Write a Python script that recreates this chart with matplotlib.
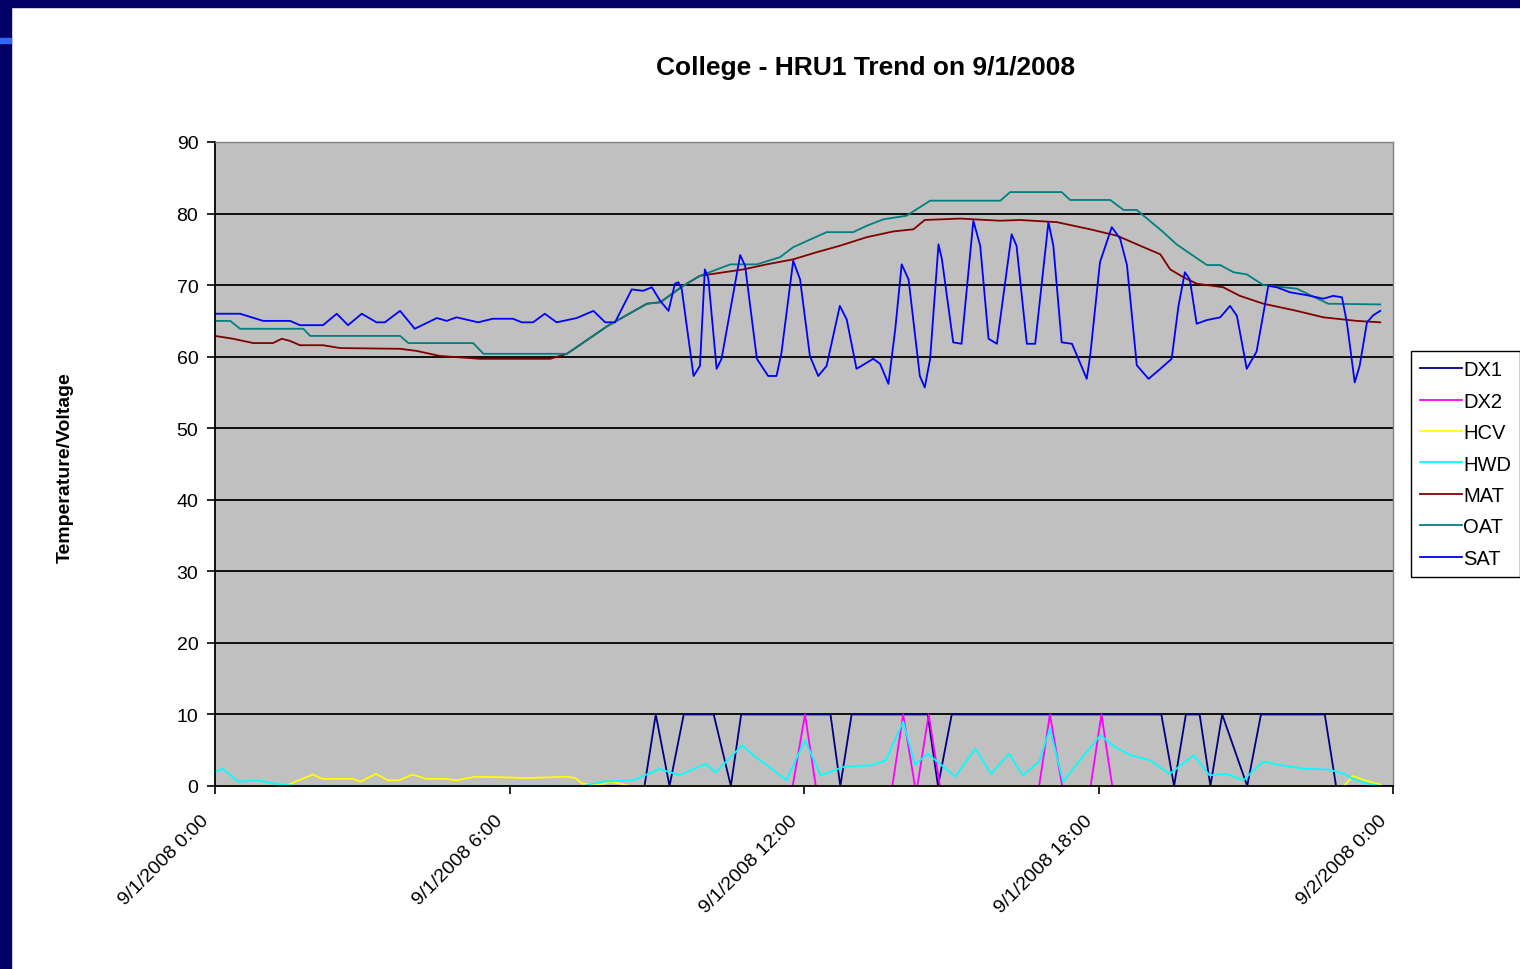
"""HRU1 trend chart for 9/1/2008 (Excel-style line chart)."""

import matplotlib.pyplot as plt
from matplotlib.patches import Rectangle
from matplotlib.lines import Line2D
from matplotlib.transforms import ScaledTranslation

plt.rcParams["font.family"] = ["Liberation Sans", "DejaVu Sans"]

# hours since 9/1/2008 0:00 and readings, one pair of lists per series
dx1_h = [0.0, 8.75, 8.98, 9.26, 9.55, 10.16, 10.51, 10.72, 12.54, 12.74, 12.97,
         14.52, 14.73, 15.01, 19.28, 19.54, 19.78, 20.06, 20.28, 20.52, 21.03,
         21.31, 22.61, 22.84, 23.75]
dx1_v = [0, 0, 10, 0, 10, 10, 0, 10, 10, 0, 10,
         10, 0, 10, 10, 0, 10, 10, 0, 10, 0,
         10, 10, 0, 0]

dx2_h = [0.0, 11.77, 12.02, 12.24, 13.80, 14.02, 14.26, 14.31, 14.54, 14.77,
         16.79, 17.01, 17.26, 17.84, 18.06, 18.28, 23.75]
dx2_v = [0, 0, 10, 0, 0, 10, 0, 0, 10, 0,
         0, 10, 0, 0, 10, 0, 0]

hcv_h = [0.0, 1.45, 1.64, 1.99, 2.19, 2.81, 2.96, 3.28, 3.52, 3.75, 4.02, 4.30,
         4.69, 4.92, 5.31, 5.94, 6.33, 7.19, 7.34, 7.50, 7.81, 8.05, 8.28, 8.44,
         23.0, 23.18, 23.42, 23.74]
hcv_v = [0, 0, 0.6, 1.6, 1.0, 1.0, 0.6, 1.7, 0.8, 0.8, 1.6, 1.0,
         1.0, 0.8, 1.3, 1.2, 1.1, 1.3, 1.1, 0.3, 0.1, 0.6, 0.3, 0,
         0, 1.4, 0.8, 0.2]

hwd_h = [0.0, 0.16, 0.47, 0.86, 1.25, 1.64, 7.50, 7.89, 8.52, 9.06, 9.45, 10.0,
         10.2, 10.74, 11.0, 11.25, 11.64, 12.02, 12.34, 12.82, 13.39, 13.67,
         14.02, 14.26, 14.52, 14.84, 15.08, 15.49, 15.81, 16.18, 16.46, 16.79,
         17.01, 17.28, 17.68, 18.04, 18.32, 18.65, 19.05, 19.45, 19.94, 20.26,
         20.6, 20.95, 21.35, 21.72, 22.2, 22.69, 23.01, 23.18, 23.5, 23.74]
hwd_v = [2.0, 2.4, 0.6, 0.8, 0.3, 0, 0, 0.6, 0.8, 2.4, 1.5, 3.1,
         1.9, 5.7, 4.1, 2.9, 0.8, 6.4, 1.5, 2.7, 2.9, 3.6,
         9.0, 3.0, 4.5, 2.7, 1.3, 5.2, 1.7, 4.5, 1.5, 3.4,
         8.0, 0.6, 4.1, 7.1, 5.5, 4.3, 3.6, 1.7, 4.3, 1.5,
         1.7, 0.8, 3.4, 2.9, 2.4, 2.3, 1.7, 1.0, 0.3, 0]

mat_h = [0.0, 0.37, 0.78, 1.18, 1.36, 1.53, 1.73, 2.2, 2.55, 3.77, 4.11, 4.58,
         5.4, 6.83, 7.17, 8.0, 8.8, 9.07, 9.54, 9.88, 10.77, 11.24, 11.78,
         12.26, 12.73, 13.28, 13.82, 14.23, 14.46, 15.18, 15.99, 16.4, 17.15,
         17.83, 18.38, 18.85, 19.26, 19.46, 19.73, 20.0, 20.54, 20.88, 21.36,
         22.04, 22.58, 23.26, 23.74]
mat_v = [62.9, 62.5, 61.9, 61.9, 62.5, 62.2, 61.6, 61.6, 61.2, 61.1, 60.8, 60.1,
         59.7, 59.7, 60.4, 64.3, 67.4, 67.6, 69.9, 71.3, 72.2, 72.9, 73.6,
         74.6, 75.5, 76.7, 77.5, 77.8, 79.1, 79.3, 79.0, 79.1, 78.8,
         77.8, 76.9, 75.5, 74.3, 72.2, 71.1, 70.2, 69.7, 68.5, 67.4,
         66.4, 65.5, 65.0, 64.8]

oat_h = [0.0, 0.31, 0.51, 1.8, 1.94, 3.77, 3.94, 5.26, 5.47, 7.1, 7.17, 8.0,
         8.8, 9.07, 9.54, 9.88, 10.5, 11.04, 11.51, 11.78, 12.46, 13.0, 13.28,
         13.62, 14.09, 14.57, 16.0, 16.2, 17.25, 17.42, 18.24, 18.51, 18.78,
         19.32, 19.59, 19.93, 20.21, 20.48, 20.75, 21.02, 21.36, 22.04, 22.68,
         23.74]
oat_v = [65.0, 65.0, 63.9, 63.9, 62.9, 62.9, 61.9, 61.9, 60.4, 60.4, 60.4, 64.3,
         67.4, 67.6, 69.9, 71.3, 72.9, 72.9, 73.9, 75.3, 77.4, 77.4, 78.3,
         79.2, 79.7, 81.8, 81.8, 83.0, 83.0, 81.9, 81.9, 80.5, 80.5,
         77.4, 75.7, 74.1, 72.8, 72.8, 71.8, 71.5, 70.0, 69.5, 67.4,
         67.3]

sat_h = [0.0, 0.51, 0.98, 1.53, 1.73, 2.2, 2.48, 2.71, 2.99, 3.29, 3.46, 3.77,
         4.07, 4.52, 4.72, 4.92, 5.36, 5.66, 6.07, 6.25, 6.48, 6.72, 6.96, 7.37,
         7.71, 7.95, 8.15, 8.49, 8.72, 8.9, 9.07, 9.24, 9.37, 9.44, 9.51, 9.75,
         9.88, 9.98, 10.05, 10.22, 10.32, 10.7, 10.8, 11.04, 11.27, 11.44, 11.54,
         11.78, 11.92, 12.12, 12.29, 12.46, 12.73, 12.87, 13.07, 13.41, 13.55,
         13.72, 13.86, 13.99, 14.13, 14.36, 14.46, 14.57, 14.74, 14.81, 15.04,
         15.21, 15.45, 15.59, 15.76, 15.93, 16.23, 16.33, 16.54, 16.71, 16.98,
         17.08, 17.25, 17.46, 17.59, 17.76, 17.83, 18.03, 18.27, 18.44, 18.58,
         18.78, 19.02, 19.26, 19.49, 19.63, 19.76, 19.86, 20.0, 20.2, 20.48,
         20.68, 20.82, 21.02, 21.22, 21.46, 21.63, 21.9, 22.24, 22.58, 22.78,
         22.96, 23.06, 23.22, 23.32, 23.47, 23.6, 23.74]
sat_v = [66.0, 66.0, 65.0, 65.0, 64.4, 64.4, 66.0, 64.4, 66.0, 64.8, 64.8, 66.4,
         63.9, 65.4, 65.0, 65.5, 64.8, 65.3, 65.3, 64.8, 64.8, 66.0, 64.8, 65.4,
         66.4, 64.8, 64.8, 69.4, 69.2, 69.7, 67.8, 66.4, 70.2, 70.4, 69.4, 57.3,
         58.7, 72.2, 71.0, 58.3, 59.7, 74.2, 72.7, 59.7, 57.3, 57.3, 60.5,
         73.4, 70.8, 60.1, 57.3, 58.7, 67.1, 65.2, 58.3, 59.7, 59.0,
         56.2, 63.9, 72.9, 70.8, 57.3, 55.7, 59.7, 75.7, 73.6, 62.0,
         61.8, 79.0, 75.5, 62.5, 61.8, 77.1, 75.5, 61.8, 61.8, 78.8,
         75.5, 62.0, 61.8, 59.7, 56.9, 60.1, 73.2, 78.1, 76.5, 72.8,
         58.8, 56.9, 58.3, 59.7, 67.1, 71.8, 70.8, 64.6, 65.1, 65.5,
         67.1, 65.7, 58.3, 60.7, 69.9, 69.7, 69.0, 68.6, 68.1, 68.5,
         68.3, 64.8, 56.4, 58.7, 64.8, 65.8, 66.4]

series_names = ["DX1", "DX2", "HCV", "HWD", "MAT", "OAT", "SAT"]
series_colors = ["#000080", "#FF00FF", "#FFFF00", "#00FFFF",
                 "#800000", "#008080", "#0000FF"]
tick_hours = [0, 6, 12, 18, 24]
tick_labels = ["9/1/2008 0:00", "9/1/2008 6:00", "9/1/2008 12:00",
               "9/1/2008 18:00", "9/2/2008 0:00"]

W, H = 1520, 970
fig = plt.figure(figsize=(W / 100, H / 100), dpi=100)
fig.patch.set_facecolor("white")

# navy slide frame
navy = "#000066"
fig.patches.append(Rectangle((0, 1 - 8 / H), 1, 8 / H, transform=fig.transFigure,
                             color=navy, zorder=0))
fig.patches.append(Rectangle((0, 0), 11 / W, 1, transform=fig.transFigure,
                             color=navy, zorder=0))
fig.patches.append(Rectangle((0, 1 - 44 / H), 11 / W, 5 / H,
                             transform=fig.transFigure, color="#3366FF", zorder=1))

ax = fig.add_axes([215 / W, 1 - 787 / H, (1393 - 215) / W, (787 - 143) / H])
ax.set_facecolor("#C0C0C0")

xs = [dx1_h, dx2_h, hcv_h, hwd_h, mat_h, oat_h, sat_h]
ys = [dx1_v, dx2_v, hcv_v, hwd_v, mat_v, oat_v, sat_v]
for x, y, name, c in zip(xs, ys, series_names, series_colors):
    ax.plot(x, y, color=c, linewidth=1.3, label=name, zorder=2,
            solid_joinstyle="round")

ax.set_xlim(0, 24)
ax.set_ylim(0, 90)
ax.set_yticks(range(0, 91, 10))
ax.set_xticks(tick_hours)
ax.set_xticklabels(tick_labels, rotation=45, ha="right", va="top",
                   rotation_mode="anchor", fontsize=15.5)
ax.tick_params(axis="both", direction="out", length=6, width=1.2,
               labelsize=14, pad=6)
ax.tick_params(axis="x", pad=4)
# Excel puts the date labels a bit left of and below each tick
shift = ScaledTranslation(-15 / 100, -12 / 100, fig.dpi_scale_trans)
for lab in ax.get_xticklabels():
    lab.set_transform(lab.get_transform() + shift)
ax.grid(axis="y", color="black", linewidth=1.3, zorder=1)
ax.set_axisbelow(True)
for side in ["left", "bottom"]:
    ax.spines[side].set_color("black")
    ax.spines[side].set_linewidth(1.3)
for side in ["top", "right"]:
    ax.spines[side].set_color("#808080")
    ax.spines[side].set_linewidth(1.0)

fig.text(866 / W, 1 - 68 / H, "College - HRU1 Trend on 9/1/2008",
         fontsize=19, fontweight="bold", ha="center", va="center")
fig.text(65 / W, 1 - 468 / H, "Temperature/Voltage", fontsize=14,
         fontweight="bold", rotation=90, ha="center", va="center")

handles = [Line2D([], [], color=c, linewidth=1.3) for c in series_colors]
leg = fig.legend(handles, series_names, loc="upper left",
                 bbox_to_anchor=(1411 / W, 1 - 352 / H), borderaxespad=0,
                 fontsize=14.5, handlelength=2.1, handletextpad=0.05,
                 labelspacing=0.62, borderpad=0.45, fancybox=False,
                 frameon=True, edgecolor="black", framealpha=1)
leg.get_frame().set_linewidth(1.0)

fig.savefig("out.png", dpi=100, facecolor=fig.get_facecolor())
